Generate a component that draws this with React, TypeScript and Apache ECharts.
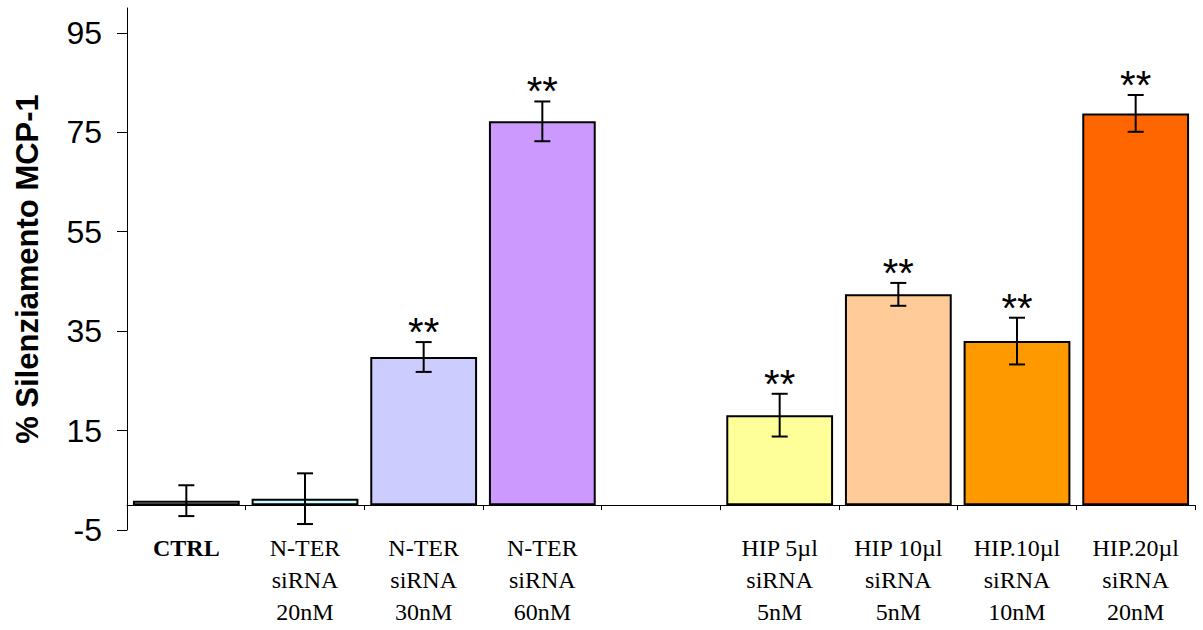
import React, { useEffect, useRef } from "react";
import * as echarts from "echarts";

const categories = [
  "CTRL",
  "N-TER\nsiRNA\n20nM",
  "N-TER\nsiRNA\n30nM",
  "N-TER\nsiRNA\n60nM",
  "",
  "HIP 5µl\nsiRNA\n5nM",
  "HIP 10µl\nsiRNA\n5nM",
  "HIP.10µl\nsiRNA\n10nM",
  "HIP.20µl\nsiRNA\n20nM",
];
const values: (number | null)[] = [0.9, 1.3, 29.8, 77.2, null, 18.1, 42.4, 33.0, 78.8];
const errors: (number | null)[] = [3.1, 5.1, 3.0, 4.0, null, 4.3, 2.3, 4.7, 3.7];
const marks = ["", "", "**", "**", "", "**", "**", "**", "**"];
const colors = ["#ffffff", "#ccffff", "#ccccff", "#cc99ff", "#ffffff", "#ffff99", "#ffcc99", "#ff9900", "#ff6600"];
const yTicks = [-5, 15, 35, 55, 75, 95];

export default function App() {
  const ref = useRef<HTMLDivElement>(null);
  useEffect(() => {
    if (!ref.current) return;
    const chart = echarts.init(ref.current, null, { renderer: "svg" });
    const errData = values
      .map((v, i) => (v == null ? null : [i, v, errors[i]]))
      .filter((d) => d != null);
    chart.setOption({
      animation: false,
      grid: { left: 127, right: 8, top: 8, bottom: 100, containLabel: false, outerBoundsMode: "none" },
      xAxis: {
        type: "category",
        data: categories,
        axisLine: { onZero: true, lineStyle: { color: "#000", width: 1 } },
        axisTick: { show: true, length: 5, lineStyle: { color: "#000" } },
        axisLabel: {
          interval: 0,
          margin: 2,
          color: "#000",
          fontFamily: "Liberation Serif",
          fontSize: 24,
          lineHeight: 32,
          formatter: (v: string) => (v === "CTRL" ? "{b|CTRL}" : v),
          rich: {
            b: { fontWeight: "bold", fontFamily: "Liberation Serif", fontSize: 24, lineHeight: 32, color: "#000" },
          },
        },
      },
      yAxis: {
        type: "value",
        min: -5,
        max: 100,
        interval: 20,
        splitLine: { show: false },
        axisLine: { show: true, lineStyle: { color: "#000", width: 1 } },
        axisTick: { show: true, length: 10, customValues: yTicks, lineStyle: { color: "#000" } },
        axisLabel: {
          customValues: yTicks,
          color: "#000",
          fontFamily: "Liberation Sans",
          fontSize: 32,
          margin: 25,
        },
        name: "% Silenziamento MCP-1",
        nameLocation: "middle",
        nameGap: 84,
        nameTextStyle: { fontFamily: "Liberation Sans", fontWeight: "bold", fontSize: 31, color: "#000" },
      },
      series: [
        {
          type: "bar",
          barCategoryGap: "10%",
          data: values.map((v, i) => ({
            value: v,
            itemStyle: { color: colors[i], borderColor: "#000", borderWidth: 2 },
          })),
        },
        {
          type: "custom",
          data: errData,
          z: 10,
          renderItem: (params: any, api: any) => {
            const idx = api.value(0);
            const v = api.value(1);
            const e = api.value(2);
            const top = api.coord([idx, v + e]);
            const bot = api.coord([idx, v - e]);
            const x = top[0];
            const cap = 8;
            const st = { stroke: "#000", lineWidth: 2 };
            const children: any[] = [
              { type: "line", shape: { x1: x, y1: top[1], x2: x, y2: bot[1] }, style: st },
              { type: "line", shape: { x1: x - cap, y1: top[1], x2: x + cap, y2: top[1] }, style: st },
              { type: "line", shape: { x1: x - cap, y1: bot[1], x2: x + cap, y2: bot[1] }, style: st },
            ];
            const m = marks[idx];
            if (m) {
              children.push({
                type: "text",
                style: {
                  text: m,
                  x: x,
                  y: top[1] + 10,
                  align: "center",
                  verticalAlign: "bottom",
                  fontSize: 40,
                  fontFamily: "Liberation Sans",
                  fill: "#000",
                },
              });
            }
            return { type: "group", children };
          },
        },
      ],
    });
    return () => chart.dispose();
  }, []);
  return <div ref={ref} style={{ width: 1203, height: 630, position: "absolute", left: 0, top: 0 }} />;
}
